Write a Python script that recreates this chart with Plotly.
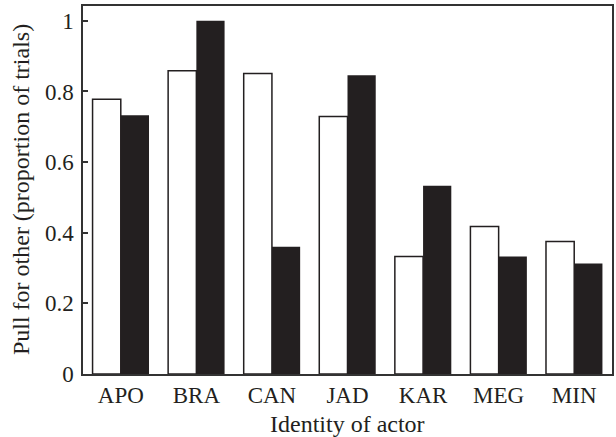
import plotly.graph_objects as go

actors = ["APO", "BRA", "CAN", "JAD", "KAR", "MEG", "MIN"]
white_vals = [0.778, 0.859, 0.851, 0.729, 0.333, 0.418, 0.375]
black_vals = [0.733, 1.0, 0.360, 0.846, 0.533, 0.333, 0.313]
y_ticks = [0, 0.2, 0.4, 0.6, 0.8, 1]
y_tick_labels = ["0", "0.2", "0.4", "0.6", "0.8", "1"]
x_title = "Identity of actor"
y_title = "Pull for other (proportion of trials)"

FONT = "Liberation Serif"
INK = "#231f20"
FS = 23
FT = 24

fig = go.Figure()
fig.add_trace(go.Bar(
    x=actors, y=white_vals, name="white",
    marker=dict(color="white", line=dict(color=INK, width=1.5)),
))
fig.add_trace(go.Bar(
    x=actors, y=black_vals, name="black",
    marker=dict(color=INK, line=dict(color=INK, width=0)),
))

fig.update_layout(
    width=616, height=437,
    margin=dict(l=83, r=2, t=6, b=63),
    barmode="group", bargap=0.253, bargroupgap=0,
    showlegend=False,
    plot_bgcolor="white", paper_bgcolor="white",
    font=dict(family=FONT, size=FS, color=INK),
)
fig.update_xaxes(
    range=[-0.5, 6.5],
    showline=True, mirror=True, linecolor="#333333", linewidth=1.5,
    ticks="", showgrid=False,
    tickfont=dict(family=FONT, size=FS, color=INK),
)
fig.update_yaxes(
    range=[0, 1.042],
    tickvals=y_ticks, ticktext=y_tick_labels,
    ticks="inside", ticklen=5, tickcolor="#333333", tickwidth=1.5,
    ticklabelstandoff=3,
    showline=True, mirror=True, linecolor="#333333", linewidth=1.5,
    showgrid=False, zeroline=False,
    tickfont=dict(family=FONT, size=FS, color=INK),
)
fig.add_annotation(
    text=x_title, xref="paper", yref="paper", x=0.5, y=-0.137,
    xanchor="center", yanchor="middle", showarrow=False,
    font=dict(family=FONT, size=FT, color=INK),
)
fig.add_annotation(
    text=y_title, xref="paper", yref="paper", x=-0.117, y=0.5,
    xanchor="center", yanchor="middle", textangle=-90, showarrow=False,
    font=dict(family=FONT, size=FT, color=INK),
)

fig.write_html("out.html")
